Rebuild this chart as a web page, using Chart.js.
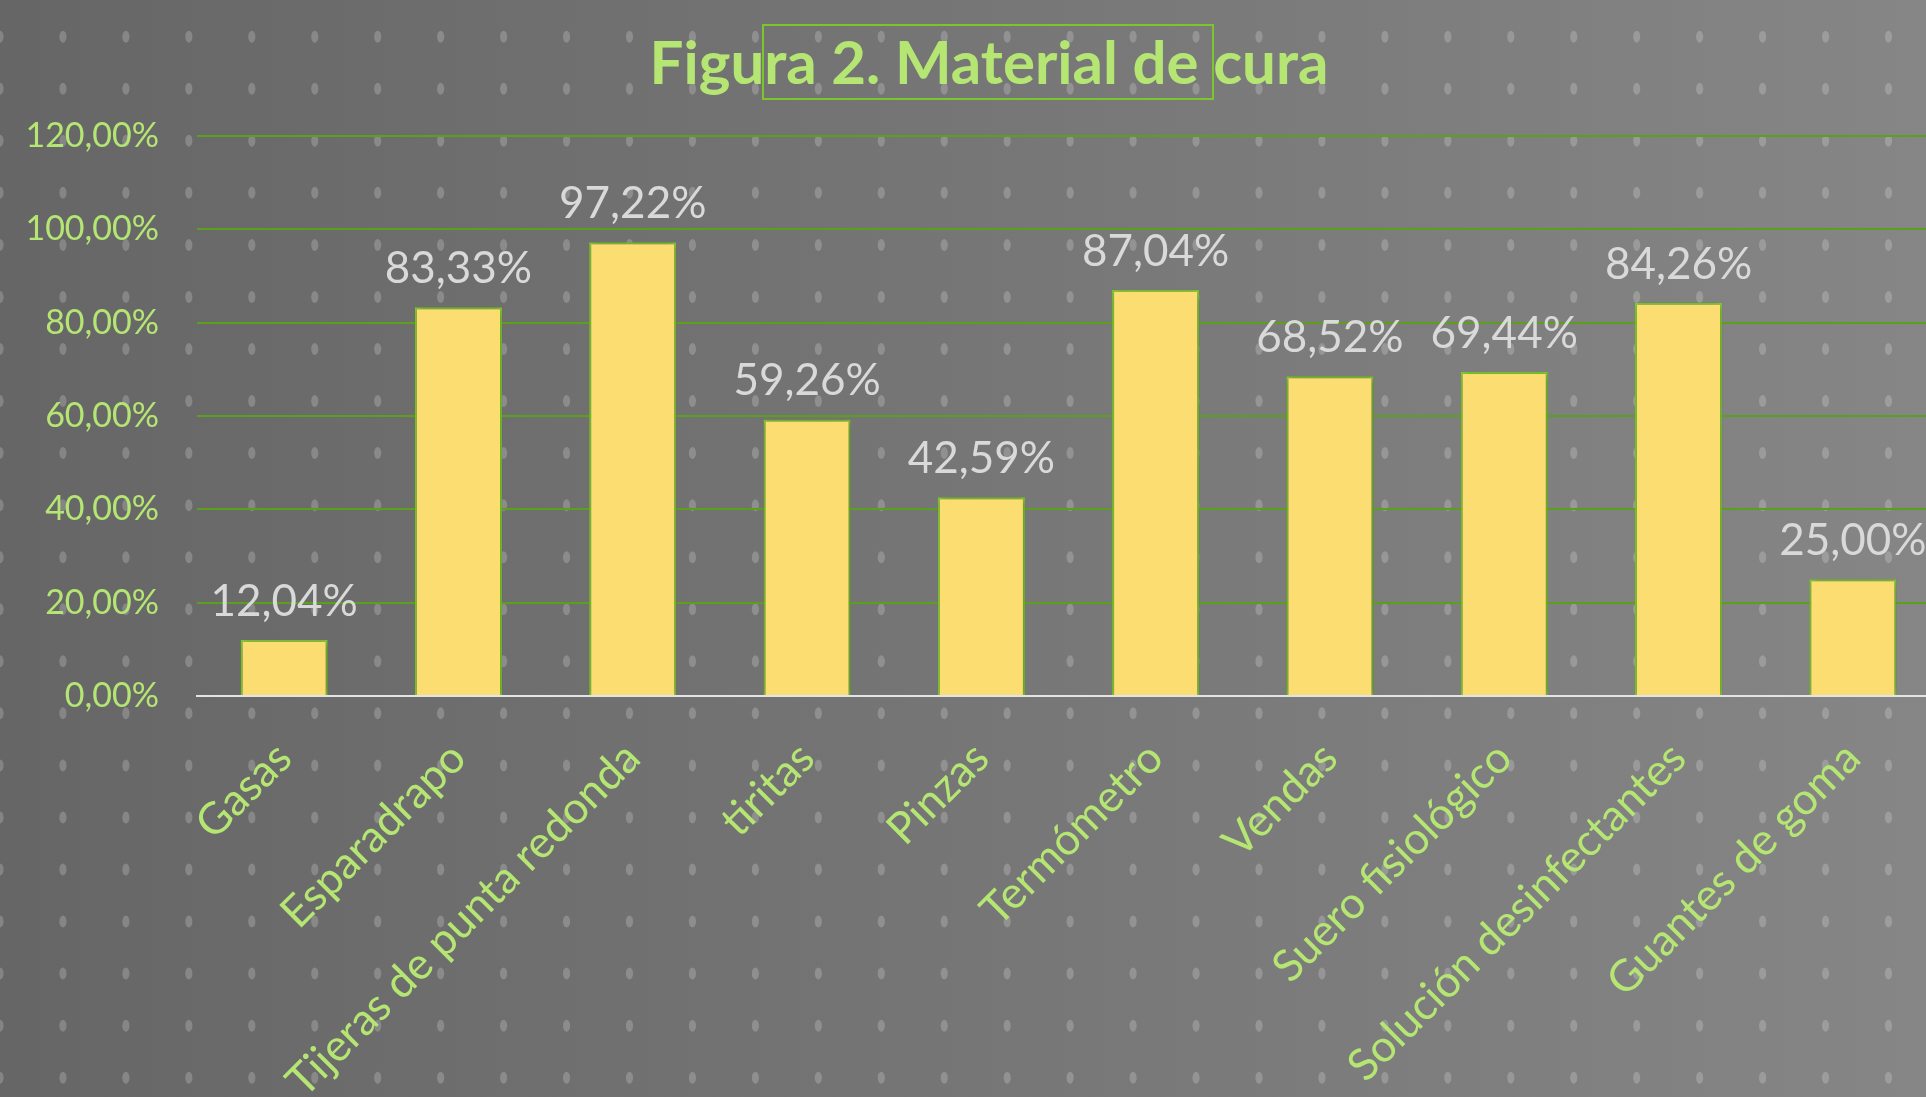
<!DOCTYPE html>
<html lang="es">
<head>
<meta charset="utf-8">
<title>Figura 2. Material de cura</title>
<script src="https://cdn.jsdelivr.net/npm/chart.js@4.4.1/dist/chart.umd.min.js"></script>
<style>
  html, body { margin: 0; padding: 0; overflow: hidden; background: #747474; }
  #wrap { width: 1940px; height: 1097px; }
</style>
</head>
<body>
<div id="wrap"><canvas id="chart" width="1940" height="1097"></canvas></div>
<script>
(function () {
  // --- Data ---
  var categories = [
    "Gasas", "Esparadrapo", "Tijeras de punta redonda", "tiritas", "Pinzas",
    "Termómetro", "Vendas", "Suero fisiológico", "Solución desinfectantes", "Guantes de goma"
  ];
  var percentages = [12.04, 83.33, 97.22, 59.26, 42.59, 87.04, 68.52, 69.44, 84.26, 25.00];
  var yTicks = [0, 20, 40, 60, 80, 100, 120];
  var titleText = "Figura 2. Material de cura";

  var GREEN_TEXT = "#b5e673";
  var GRID_GREEN = "#5c9f1c";

  function pct(v) {
    return v.toFixed(2).replace(".", ",") + "%";
  }

  // --- Background: gradient + dot pattern ---
  var backdrop = {
    id: "backdrop",
    beforeDraw: function (chart) {
      var ctx = chart.ctx, w = chart.width, h = chart.height;
      ctx.save();
      var g = ctx.createLinearGradient(0, 0, w, 0);
      g.addColorStop(0, "#666666");
      g.addColorStop(1, "#868686");
      ctx.fillStyle = g;
      ctx.fillRect(0, 0, w, h);
      ctx.fillStyle = "rgba(255,255,255,0.2)";
      for (var y = 36.7; y < h + 10; y += 52.05) {
        for (var x = 0; x < w + 10; x += 62.95) {
          ctx.beginPath();
          ctx.ellipse(x, y, 3.6, 6, 0, 0, Math.PI * 2);
          ctx.fill();
        }
      }
      ctx.restore();
    }
  };

  // --- Title and the selection box over it ---
  var titleBox = {
    id: "titleBox",
    afterDraw: function (chart) {
      var ctx = chart.ctx;
      ctx.save();
      ctx.font = "bold 60px Lato";
      ctx.fillStyle = GREEN_TEXT;
      ctx.textAlign = "center";
      ctx.textBaseline = "alphabetic";
      ctx.fillText(titleText, 989, 84);
      ctx.strokeStyle = "#7cc52a";
      ctx.lineWidth = 2;
      ctx.strokeRect(763, 25, 450, 74);
      ctx.restore();
    }
  };

  // --- Bar shadow + value labels ---
  var barExtras = {
    id: "barExtras",
    beforeDatasetsDraw: function (chart) {
      var ctx = chart.ctx;
      ctx.save();
      ctx.shadowColor = "rgba(0,0,0,0.35)";
      ctx.shadowBlur = 7;
      ctx.shadowOffsetX = 1;
      ctx.shadowOffsetY = 1;
    },
    afterDatasetsDraw: function (chart) {
      var ctx = chart.ctx;
      ctx.restore();
      var meta = chart.getDatasetMeta(0);
      ctx.save();
      ctx.font = "44px Lato";
      ctx.fillStyle = "#d9d9d9";
      ctx.textAlign = "center";
      ctx.textBaseline = "alphabetic";
      meta.data.forEach(function (bar, i) {
        ctx.fillText(pct(percentages[i]), bar.x, bar.y - 24);
      });
      ctx.restore();
    }
  };

  new Chart(document.getElementById("chart"), {
    type: "bar",
    data: {
      labels: categories,
      datasets: [{
        data: percentages,
        backgroundColor: "#fcdd72",
        borderColor: "#80cd2e",
        borderWidth: 2,
        categoryPercentage: 1,
        barPercentage: 0.5
      }]
    },
    options: {
      responsive: false,
      animation: false,
      devicePixelRatio: 1,
      layout: { padding: { top: 136, right: 0, bottom: 0, left: 0 } },
      plugins: {
        legend: { display: false },
        title: { display: false },
        tooltip: { enabled: false }
      },
      scales: {
        y: {
          min: 0,
          max: 120,
          afterBuildTicks: function (scale) {
            scale.ticks = yTicks.map(function (v) { return { value: v }; });
          },
          afterFit: function (scale) { scale.width = 197; },
          grid: { color: GRID_GREEN, lineWidth: 2, drawTicks: false },
          border: { display: false },
          ticks: {
            padding: 38,
            color: GREEN_TEXT,
            font: { family: "Lato", size: 34 },
            callback: function (v) { return pct(v); }
          }
        },
        x: {
          afterFit: function (scale) { scale.height = 401; },
          grid: { display: false, drawTicks: false },
          border: { display: true, color: "#e4e4e4", width: 2 },
          ticks: {
            autoSkip: false,
            maxRotation: 45,
            minRotation: 45,
            padding: 36,
            color: GREEN_TEXT,
            font: { family: "Lato", size: 44 }
          }
        }
      }
    },
    plugins: [backdrop, titleBox, barExtras]
  });
})();
</script>
</body>
</html>
